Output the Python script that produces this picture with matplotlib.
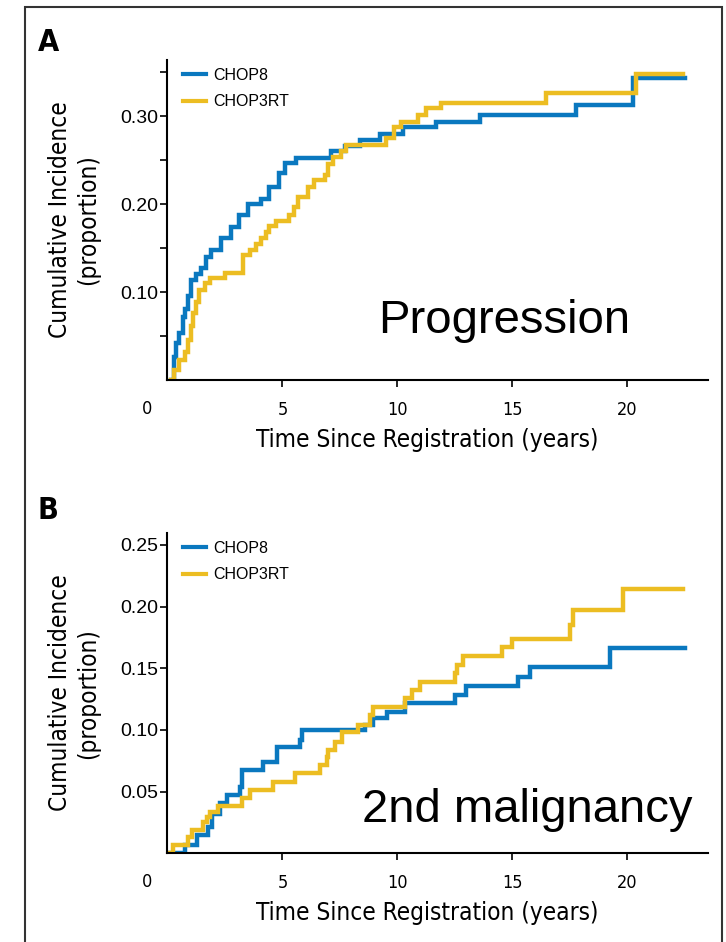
import matplotlib
matplotlib.use('Agg')
import matplotlib.pyplot as plt
import matplotlib.font_manager as fm
from matplotlib.patches import Rectangle

# Panel A - progression (time in years, cumulative incidence)
prog_chop8_t = [0.15, 0.30, 0.38, 0.52, 0.67, 0.74, 0.88, 1.03, 1.25, 1.46, 1.68, 1.90, 2.33, 2.77, 3.13,
                3.49, 4.07, 4.43, 4.87, 5.09, 5.59, 7.12, 7.70, 8.35, 9.22, 10.25, 11.68, 13.57, 17.77, 20.23, 22.48]
prog_chop8_p = [0, 0.026, 0.042, 0.053, 0.072, 0.081, 0.095, 0.114, 0.121, 0.127, 0.140, 0.148, 0.161, 0.174, 0.1875,
                0.200, 0.206, 0.220, 0.235, 0.247, 0.253, 0.261, 0.266, 0.273, 0.280, 0.288, 0.294, 0.301, 0.3125, 0.344, 0.344]
prog_chop3rt_t = [0.15, 0.30, 0.52, 0.74, 0.88, 1.03, 1.10, 1.25, 1.39, 1.61, 1.83, 2.49, 3.28, 3.57, 3.86,
                  4.07, 4.29, 4.43, 4.72, 5.30, 5.52, 5.67, 6.10, 6.39, 6.83, 6.97, 7.19, 7.55, 7.77, 9.51,
                  9.86, 10.17, 10.90, 11.25, 11.90, 16.46, 20.38, 22.4]
prog_chop3rt_p = [0, 0.011, 0.023, 0.032, 0.045, 0.061, 0.076, 0.089, 0.102, 0.110, 0.1155, 0.122, 0.142, 0.148, 0.155,
                  0.161, 0.1685, 0.175, 0.181, 0.1875, 0.197, 0.208, 0.220, 0.227, 0.233, 0.246, 0.254, 0.261, 0.267, 0.275,
                  0.288, 0.294, 0.301, 0.309, 0.3155, 0.326, 0.348, 0.348]

# Panel B - 2nd malignancy
mal_chop8_t = [0.1, 0.76, 1.27, 1.78, 1.92, 2.28, 2.57, 3.15, 3.22, 4.17, 4.75, 5.76, 5.83, 8.59, 8.95,
               9.53, 10.33, 12.5, 13.0, 15.25, 15.76, 19.24, 22.5]
mal_chop8_p = [0, 0.0067, 0.0148, 0.0216, 0.032, 0.0405, 0.0473, 0.054, 0.0675, 0.0742, 0.0864, 0.0918, 0.0999, 0.104, 0.1094,
               0.1148, 0.1215, 0.128, 0.1356, 0.143, 0.151, 0.166, 0.166]
mal_chop3rt_t = [0.0, 0.25, 0.91, 1.05, 1.56, 1.70, 1.85, 2.21, 3.22, 3.59, 4.60, 5.54, 6.63, 6.92, 6.99, 7.28,
                 7.57, 8.30, 8.80, 8.95, 10.33, 10.62, 10.98, 12.5, 12.57, 12.86, 14.53, 14.97, 17.5, 17.64, 19.82, 22.4]
mal_chop3rt_p = [0, 0.0067, 0.0135, 0.0189, 0.0256, 0.0297, 0.0337, 0.0383, 0.0446, 0.0513, 0.058, 0.0648, 0.0716, 0.0783, 0.0837, 0.0905,
                 0.0986, 0.104, 0.112, 0.1188, 0.1256, 0.1323, 0.1386, 0.1459, 0.1526, 0.16, 0.167, 0.174, 0.185, 0.197, 0.214, 0.214]

groups = ['CHOP8', 'CHOP3RT']
x_ticks = [5, 10, 15, 20]
a_yticks = [0.05, 0.10, 0.15, 0.20, 0.25, 0.30, 0.35]
a_ylabels = ['', '0.10', '', '0.20', '', '0.30', '']
b_yticks = [0.05, 0.10, 0.15, 0.20, 0.25]
b_ylabels = ['0.05', '0.10', '0.15', '0.20', '0.25']

blue = '#0a78bf'
yellow = '#ecbd22'
regular = ['Liberation Sans', 'DejaVu Sans']


# look for an upright condensed face, otherwise use a narrow-ish sans at smaller size
def is_cond(f):
    return ('Narrow' in f.name or 'Condensed' in f.name or f.stretch in ('condensed', 'semi-condensed')) \
        and f.style == 'normal'


cond = sorted([f for f in fm.fontManager.ttflist if is_cond(f) and f.weight in (400, 'normal', 'regular')],
              key=lambda f: f.fname)
cond_bold = sorted([f for f in fm.fontManager.ttflist if is_cond(f) and f.weight in (700, 'bold')],
                   key=lambda f: f.fname)
if cond:
    def nf(size, bold=False):
        src = cond_bold if (bold and cond_bold) else cond
        return fm.FontProperties(fname=src[0].fname, size=size)
    lab_size, tick_size = 17.5, 13
else:
    def nf(size, bold=False):
        return fm.FontProperties(family=['Roboto', 'DejaVu Sans'], size=size,
                                 weight='bold' if bold else 'normal')
    lab_size, tick_size = 16.5, 12.5

fig = plt.figure(figsize=(7.26, 9.42), dpi=100)
fig.patches.append(Rectangle((25 / 726, -0.05), 697 / 726, 1.05 - 7 / 942, transform=fig.transFigure,
                             fill=False, lw=1.5, ec='#333333'))


def panel(rect, t1, p1, t2, p2, yticks, ylabels, ytop, note, note_xy, letter, letter_y, leg_y):
    ax = fig.add_axes(rect)
    ax.step(t1, p1, where='post', color=blue, lw=3.2, label=groups[0], solid_joinstyle='miter')
    ax.step(t2, p2, where='post', color=yellow, lw=3.2, label=groups[1], solid_joinstyle='miter')
    ax.set_xlim(0, 23.5)
    ax.set_ylim(0, ytop)
    for s in ['top', 'right']:
        ax.spines[s].set_visible(False)
    for s in ['left', 'bottom']:
        ax.spines[s].set_linewidth(1.5)
    ax.set_xticks(x_ticks)
    ax.set_xticklabels([str(v) for v in x_ticks], fontproperties=nf(tick_size))
    ax.set_yticks(yticks)
    ax.set_yticklabels(ylabels, family=regular, fontsize=14)
    ax.tick_params(axis='x', length=5, width=1.2, pad=10)
    ax.tick_params(axis='y', length=5, width=1.2, pad=2)
    ax.annotate('0', xy=(0, 0), xycoords='axes fraction', xytext=(-20, -20), textcoords='offset pixels',
                ha='center', va='top', fontproperties=nf(tick_size))
    ax.set_xlabel('Time Since Registration (years)', fontproperties=nf(lab_size))
    ax.xaxis.set_label_coords(0.48, -0.15)
    ax.set_ylabel('Cumulative Incidence\n(proportion)', fontproperties=nf(lab_size), linespacing=1.2)
    ax.yaxis.set_label_coords(-0.125, 0.5)
    leg = ax.legend(loc='upper left', bbox_to_anchor=(0.029, leg_y), frameon=False, borderpad=0,
                    borderaxespad=0, handlelength=1.45, handletextpad=0.45, labelspacing=0.7,
                    prop={'family': regular, 'size': 11.5})
    for h in leg.get_lines():
        h.set_linewidth(3)
    ax.text(note_xy[0], note_xy[1], note, transform=ax.transAxes, family=regular, fontsize=34)
    fig.text(38 / 726, letter_y, letter, fontproperties=nf(22, bold=True), fontweight='bold', va='top')
    return ax


panel([0.2307, 0.5966, 0.7445, 0.3397], prog_chop8_t, prog_chop8_p, prog_chop3rt_t, prog_chop3rt_p,
      a_yticks, a_ylabels, 0.364, 'Progression', (0.3895, 0.147), 'A', 1 - 28 / 942, 0.975)
panel([0.2307, 0.0942, 0.7445, 0.34], mal_chop8_t, mal_chop8_p, mal_chop3rt_t, mal_chop3rt_p,
      b_yticks, b_ylabels, 0.2596, '2nd malignancy', (0.36, 0.098), 'B', 1 - 496 / 942, 0.975)

plt.savefig('out.png', dpi=100)
